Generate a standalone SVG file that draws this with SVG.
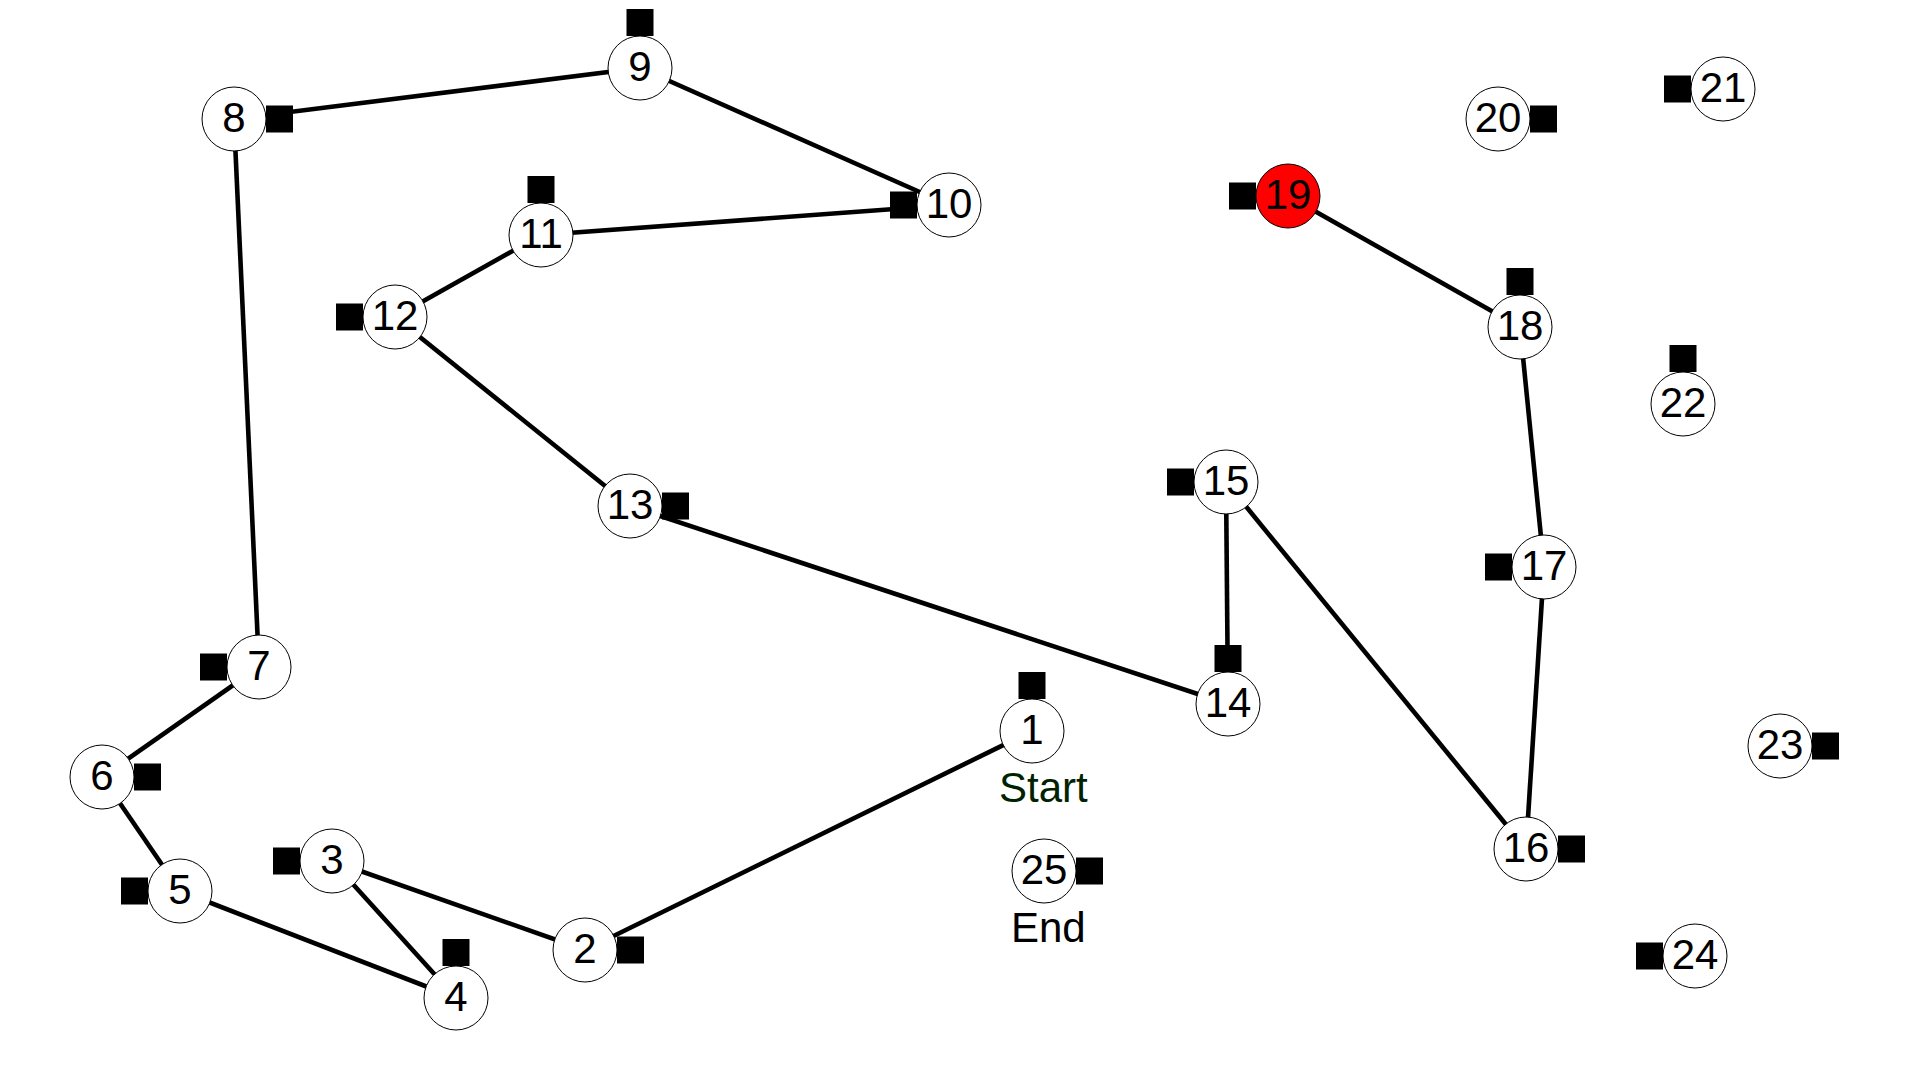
<svg xmlns="http://www.w3.org/2000/svg" width="1920" height="1080" viewBox="0 0 1920 1080">
  <style>
    .edge { stroke: #000; stroke-width: 4.6; fill: none; }
    .node circle { fill: #fff; stroke: #000; stroke-width: 1; }
    .node rect { fill: #000; }
    .node text { font-family: "Liberation Sans", Arial, sans-serif; font-size: 42px; fill: #000; text-anchor: middle; }
    .node.current circle { fill: #ff0000; }
    .tag { font-family: "Liberation Sans", Arial, sans-serif; font-size: 42px; }
  </style>
  <rect width="1920" height="1080" fill="#fff"/>

  <!-- route connectors, centre to centre -->
  <g id="connectors">
    <line class="edge" x1="1032" y1="731" x2="585" y2="950"/>
    <line class="edge" x1="585" y1="950" x2="332" y2="861"/>
    <line class="edge" x1="332" y1="861" x2="456" y2="998"/>
    <line class="edge" x1="456" y1="998" x2="180" y2="891"/>
    <line class="edge" x1="180" y1="891" x2="102" y2="777"/>
    <line class="edge" x1="102" y1="777" x2="259" y2="667"/>
    <line class="edge" x1="259" y1="667" x2="234" y2="119"/>
    <line class="edge" x1="234" y1="119" x2="640" y2="68"/>
    <line class="edge" x1="640" y1="68" x2="949" y2="205"/>
    <line class="edge" x1="949" y1="205" x2="541" y2="235"/>
    <line class="edge" x1="541" y1="235" x2="395" y2="317"/>
    <line class="edge" x1="395" y1="317" x2="630" y2="506"/>
    <line class="edge" x1="630" y1="506" x2="1228" y2="704"/>
    <line class="edge" x1="1228" y1="704" x2="1226" y2="482"/>
    <line class="edge" x1="1226" y1="482" x2="1526" y2="849"/>
    <line class="edge" x1="1526" y1="849" x2="1544" y2="567"/>
    <line class="edge" x1="1544" y1="567" x2="1520" y2="327"/>
    <line class="edge" x1="1520" y1="327" x2="1288" y2="196"/>
  </g>

  <!-- nodes: circle r=32, square marker 27x27 tangent to the circle -->
  <g id="node-1" class="node"><rect x="1018.5" y="672" width="27" height="27"/><circle cx="1032" cy="731" r="32"/><text x="1032" y="744">1</text></g>
  <g id="node-2" class="node"><rect x="617" y="936.5" width="27" height="27"/><circle cx="585" cy="950" r="32"/><text x="585" y="963">2</text></g>
  <g id="node-3" class="node"><rect x="273" y="847.5" width="27" height="27"/><circle cx="332" cy="861" r="32"/><text x="332" y="874">3</text></g>
  <g id="node-4" class="node"><rect x="442.5" y="939" width="27" height="27"/><circle cx="456" cy="998" r="32"/><text x="456" y="1011">4</text></g>
  <g id="node-5" class="node"><rect x="121" y="877.5" width="27" height="27"/><circle cx="180" cy="891" r="32"/><text x="180" y="904">5</text></g>
  <g id="node-6" class="node"><rect x="134" y="763.5" width="27" height="27"/><circle cx="102" cy="777" r="32"/><text x="102" y="790">6</text></g>
  <g id="node-7" class="node"><rect x="200" y="653.5" width="27" height="27"/><circle cx="259" cy="667" r="32"/><text x="259" y="680">7</text></g>
  <g id="node-8" class="node"><rect x="266" y="105.5" width="27" height="27"/><circle cx="234" cy="119" r="32"/><text x="234" y="132">8</text></g>
  <g id="node-9" class="node"><rect x="626.5" y="9" width="27" height="27"/><circle cx="640" cy="68" r="32"/><text x="640" y="81">9</text></g>
  <g id="node-10" class="node"><rect x="890" y="191.5" width="27" height="27"/><circle cx="949" cy="205" r="32"/><text x="949" y="218">10</text></g>
  <g id="node-11" class="node"><rect x="527.5" y="176" width="27" height="27"/><circle cx="541" cy="235" r="32"/><text x="541" y="248">11</text></g>
  <g id="node-12" class="node"><rect x="336" y="303.5" width="27" height="27"/><circle cx="395" cy="317" r="32"/><text x="395" y="330">12</text></g>
  <g id="node-13" class="node"><rect x="662" y="492.5" width="27" height="27"/><circle cx="630" cy="506" r="32"/><text x="630" y="519">13</text></g>
  <g id="node-14" class="node"><rect x="1214.5" y="645" width="27" height="27"/><circle cx="1228" cy="704" r="32"/><text x="1228" y="717">14</text></g>
  <g id="node-15" class="node"><rect x="1167" y="468.5" width="27" height="27"/><circle cx="1226" cy="482" r="32"/><text x="1226" y="495">15</text></g>
  <g id="node-16" class="node"><rect x="1558" y="835.5" width="27" height="27"/><circle cx="1526" cy="849" r="32"/><text x="1526" y="862">16</text></g>
  <g id="node-17" class="node"><rect x="1485" y="553.5" width="27" height="27"/><circle cx="1544" cy="567" r="32"/><text x="1544" y="580">17</text></g>
  <g id="node-18" class="node"><rect x="1506.5" y="268" width="27" height="27"/><circle cx="1520" cy="327" r="32"/><text x="1520" y="340">18</text></g>
  <g id="node-19" class="node current"><rect x="1229" y="182.5" width="27" height="27"/><circle cx="1288" cy="196" r="32"/><text x="1288" y="209">19</text></g>
  <g id="node-20" class="node"><rect x="1530" y="105.5" width="27" height="27"/><circle cx="1498" cy="119" r="32"/><text x="1498" y="132">20</text></g>
  <g id="node-21" class="node"><rect x="1664" y="75.5" width="27" height="27"/><circle cx="1723" cy="89" r="32"/><text x="1723" y="102">21</text></g>
  <g id="node-22" class="node"><rect x="1669.5" y="345" width="27" height="27"/><circle cx="1683" cy="404" r="32"/><text x="1683" y="417">22</text></g>
  <g id="node-23" class="node"><rect x="1812" y="732.5" width="27" height="27"/><circle cx="1780" cy="746" r="32"/><text x="1780" y="759">23</text></g>
  <g id="node-24" class="node"><rect x="1636" y="942.5" width="27" height="27"/><circle cx="1695" cy="956" r="32"/><text x="1695" y="969">24</text></g>
  <g id="node-25" class="node"><rect x="1076" y="857.5" width="27" height="27"/><circle cx="1044" cy="871" r="32"/><text x="1044" y="884">25</text></g>

  <!-- route endpoints -->
  <text class="tag" x="999" y="802" fill="#002200">Start</text>
  <text class="tag" x="1011" y="942" fill="#000">End</text>
</svg>
